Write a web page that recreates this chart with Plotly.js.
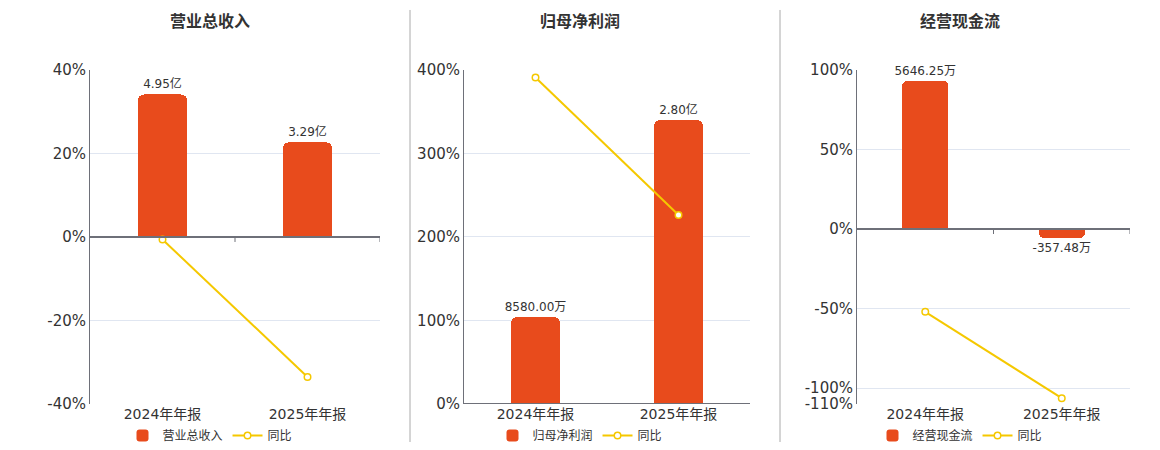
<!DOCTYPE html>
<html><head><meta charset="utf-8">
<script src="https://cdn.plot.ly/plotly-3.0.1.min.js"></script>
<style>html,body{margin:0;padding:0;background:#fff}</style>
</head><body><div id="chart" style="width:1160px;height:450px"></div>
<script>
const categories = ['2024年年报', '2025年年报'];

const titles = ['营业总收入', '归母净利润', '经营现金流'];

const revenueValues = [4.95, 3.29];            // 亿
const revenueLabels = ['4.95亿', '3.29亿'];
const revenueYoy = [-0.6, -33.5];              // %

const profitValues = [0.858, 2.80];            // 亿
const profitLabels = ['8580.00万', '2.80亿'];
const profitYoy = [390.8, 226.3];              // %

const cashValues = [5646.25, -357.48];         // 万
const cashLabels = ['5646.25万', '-357.48万'];
const cashYoy = [-52.0, -106.3];               // %

const pctRanges = [[-40, 40], [0, 400], [-110, 100]];
const pctTicks = [[-40, -20, 0, 20, 40], [0, 100, 200, 300, 400], [-110, -100, -50, 0, 50, 100]];
const barScale = [0.14515, 0.008235, 60.52];

const W = 1160, H = 450;
const FONT = '"DejaVu Sans", "Noto Sans CJK SC", sans-serif';
const BAR = '#E84B1C', LINE = '#F5C800', AXIS = '#6E7079', GRID = '#E0E6F1', TXT = '#333333';

const plotX = [[90, 380], [464, 750], [857, 1130]];
const plotY = [70, 405];
const centers = [210, 580, 960];

const datasets = [
  {vals: revenueValues, labels: revenueLabels, yoy: revenueYoy},
  {vals: profitValues, labels: profitLabels, yoy: profitYoy},
  {vals: cashValues, labels: cashLabels, yoy: cashYoy}
];

const data = [];
const layout = {
  width: W, height: H, margin: {l: 0, r: 0, t: 0, b: 0},
  paper_bgcolor: '#fff', plot_bgcolor: 'rgba(0,0,0,0)',
  font: {family: FONT, color: TXT, size: 12},
  showlegend: true, annotations: [], shapes: [], bargap: 0
};

const ydom = [1 - plotY[1] / H, 1 - plotY[0] / H];

datasets.forEach((d, i) => {
  const n = i + 1;
  const xid = n === 1 ? 'x' : 'x' + n;
  const ybar = n === 1 ? 'y' : 'y' + n;
  const ypct = 'y' + (n + 3);
  const legendId = n === 1 ? 'legend' : 'legend' + n;

  data.push({
    type: 'bar', x: categories, y: d.vals, xaxis: xid, yaxis: ybar,
    name: titles[i], legend: legendId, width: 0.34,
    marker: {color: BAR, cornerradius: 6},
    text: d.labels, textposition: 'outside', cliponaxis: false, constraintext: 'none',
    textfont: {size: 12, color: TXT, family: FONT},
    hoverinfo: 'skip'
  });
  data.push({
    type: 'scatter', mode: 'lines+markers', x: categories, y: d.yoy,
    xaxis: xid, yaxis: ypct, name: '同比', legend: legendId,
    line: {color: LINE, width: 2},
    marker: {symbol: 'circle', size: 6.5, color: '#fff', line: {color: LINE, width: 1.5}},
    cliponaxis: false, hoverinfo: 'skip'
  });

  const xd = [plotX[i][0] / W, plotX[i][1] / W];
  const xkey = n === 1 ? 'xaxis' : 'xaxis' + n;
  const ybkey = n === 1 ? 'yaxis' : 'yaxis' + n;
  const ypkey = 'yaxis' + (n + 3);

  layout[xkey] = {
    domain: xd, anchor: ybar, type: 'category', range: [-0.5, 1.5],
    showline: false, showgrid: false, zeroline: false, ticks: '',
    tickfont: {size: 14, color: TXT, family: FONT}, fixedrange: true
  };
  const pr = pctRanges[i];
  layout[ybkey] = {
    domain: ydom, anchor: xid, visible: false,
    range: [pr[0] * barScale[i], pr[1] * barScale[i]], fixedrange: true
  };
  layout[ypkey] = {
    overlaying: ybar, anchor: xid, side: 'left', range: pr,
    tickvals: pctTicks[i], ticktext: pctTicks[i].map(v => v + '%'),
    showgrid: true, gridcolor: GRID, gridwidth: 1,
    zeroline: false, showline: true, linecolor: AXIS, linewidth: 1,
    ticks: '', tickfont: {size: 15, color: TXT, family: FONT}, fixedrange: true
  };

  // category axis line at zero + boundary ticks
  layout.shapes.push({
    type: 'line', xref: xid, x0: -0.5, x1: 1.5, yref: ybar, y0: 0, y1: 0,
    line: {color: AXIS, width: 2}, layer: 'above'
  });
  [0.5, 1.5].forEach(b => {
    layout.shapes.push({
      type: 'line', xref: xid, x0: b, x1: b, yref: ybar, ysizemode: 'pixel',
      yanchor: 0, y0: 0, y1: -5, line: {color: AXIS, width: 1}, layer: 'above'
    });
  });

  layout.annotations.push({
    text: '<b>' + titles[i] + '</b>', xref: 'paper', yref: 'paper',
    x: centers[i] / W, y: 1 - 22 / H, xanchor: 'center', yanchor: 'middle',
    showarrow: false, font: {size: 16, color: TXT, family: FONT}
  });

  layout[legendId] = {
    orientation: 'h', x: centers[i] / W, y: 1 - 436 / H,
    xanchor: 'center', yanchor: 'middle', bgcolor: 'rgba(0,0,0,0)',
    font: {size: 12, color: TXT, family: FONT}, itemclick: false, itemdoubleclick: false
  };
});

[410, 780].forEach(px => {
  layout.shapes.push({
    type: 'line', xref: 'paper', yref: 'paper', x0: px / W, x1: px / W,
    y0: 1 - 443 / H, y1: 1 - 10 / H, line: {color: '#AAAAAA', width: 1}
  });
});

Plotly.newPlot('chart', data, layout, {displayModeBar: false, staticPlot: true});
</script></body></html>
